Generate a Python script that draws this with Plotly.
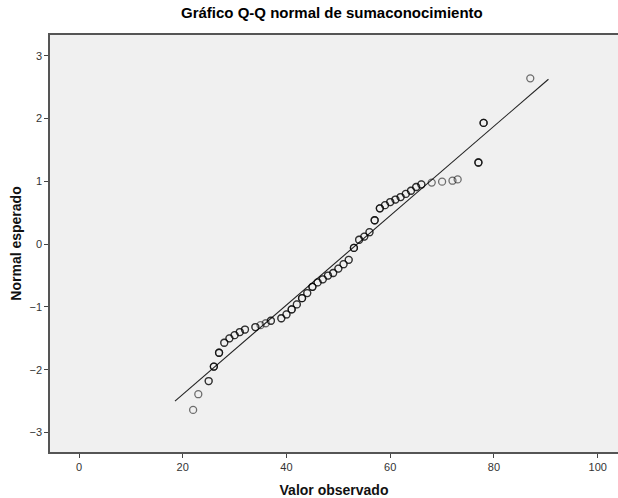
import plotly.graph_objects as go

# Observed values of sumaconocimiento and their expected normal scores
observed = [22, 23, 25, 26, 27, 28, 29, 30, 31, 32, 34, 35, 36, 37, 39, 40, 41, 42,
            43, 44, 45, 46, 47, 48, 49, 50, 51, 52, 53, 54, 55, 56, 57, 58, 59, 60,
            61, 62, 63, 64, 65, 66, 68, 70, 72, 73, 77, 78, 87]
expected = [-2.64, -2.39, -2.18, -1.95, -1.73, -1.57, -1.50, -1.45, -1.40, -1.36,
            -1.32, -1.29, -1.26, -1.22, -1.18, -1.12, -1.04, -0.96, -0.86, -0.78,
            -0.68, -0.61, -0.56, -0.50, -0.46, -0.39, -0.32, -0.25, -0.06, 0.07,
            0.12, 0.19, 0.38, 0.57, 0.62, 0.67, 0.71, 0.75, 0.80, 0.85, 0.91, 0.95,
            0.98, 0.995, 1.01, 1.03, 1.30, 1.93, 2.64]
# number of cases sharing each observed value (tied cases overlap)
cases = [1, 1, 2, 3, 3, 2, 2, 2, 2, 2, 2, 1, 1, 2, 2, 2, 3, 2, 3, 2, 3, 2, 2, 2,
         2, 2, 2, 2, 3, 2, 2, 2, 3, 3, 2, 2, 2, 2, 2, 2, 2, 2, 1, 1, 1, 1, 3, 3, 1]

# Reference line of the normal distribution
line_x = [18.5, 90.5]
line_y = [-2.50, 2.625]

x_ticks = [0, 20, 40, 60, 80, 100]
y_ticks = [-3, -2, -1, 0, 1, 2, 3]

px, py = [], []
for xv, yv, n in zip(observed, expected, cases):
    px += [xv] * n
    py += [yv] * n

FONT = "Arial, Liberation Sans, sans-serif"

fig = go.Figure()
fig.add_trace(go.Scatter(
    x=line_x, y=line_y, mode="lines",
    line=dict(color="#222222", width=1.1),
    hoverinfo="skip", showlegend=False,
))
fig.add_trace(go.Scatter(
    x=px, y=py, mode="markers",
    marker=dict(symbol="circle-open", size=7, color="rgba(0,0,0,0.55)",
                line=dict(width=1.3)),
    showlegend=False,
))

axis_common = dict(
    showgrid=False, zeroline=False,
    showline=True, linecolor="#555555", linewidth=1.5,
    ticks="outside", ticklen=4, tickwidth=1.2, tickcolor="#444444",
    tickfont=dict(family=FONT, size=11, color="#333333"),
)

fig.update_layout(
    width=618, height=498,
    margin=dict(l=50, r=0, t=35, b=46),
    paper_bgcolor="white",
    plot_bgcolor="#F0F0F0",
    title=dict(text="<b>Gráfico Q-Q normal de sumaconocimiento</b>",
               x=0.537, xanchor="center", y=0.974, yanchor="middle",
               font=dict(family=FONT, size=15, color="#000000")),
    xaxis=dict(range=[-5.59, 103.91], tickvals=x_ticks, mirror=True,
               title=dict(text="<b>Valor observado</b>", standoff=14,
                          font=dict(family=FONT, size=14, color="#111111")),
               **axis_common),
    yaxis=dict(range=[-3.31, 3.33], tickvals=y_ticks,
               title=dict(text="<b>Normal esperado</b>", standoff=5,
                          font=dict(family=FONT, size=14, color="#111111")),
               **axis_common),
)

fig.write_html("out.html")
